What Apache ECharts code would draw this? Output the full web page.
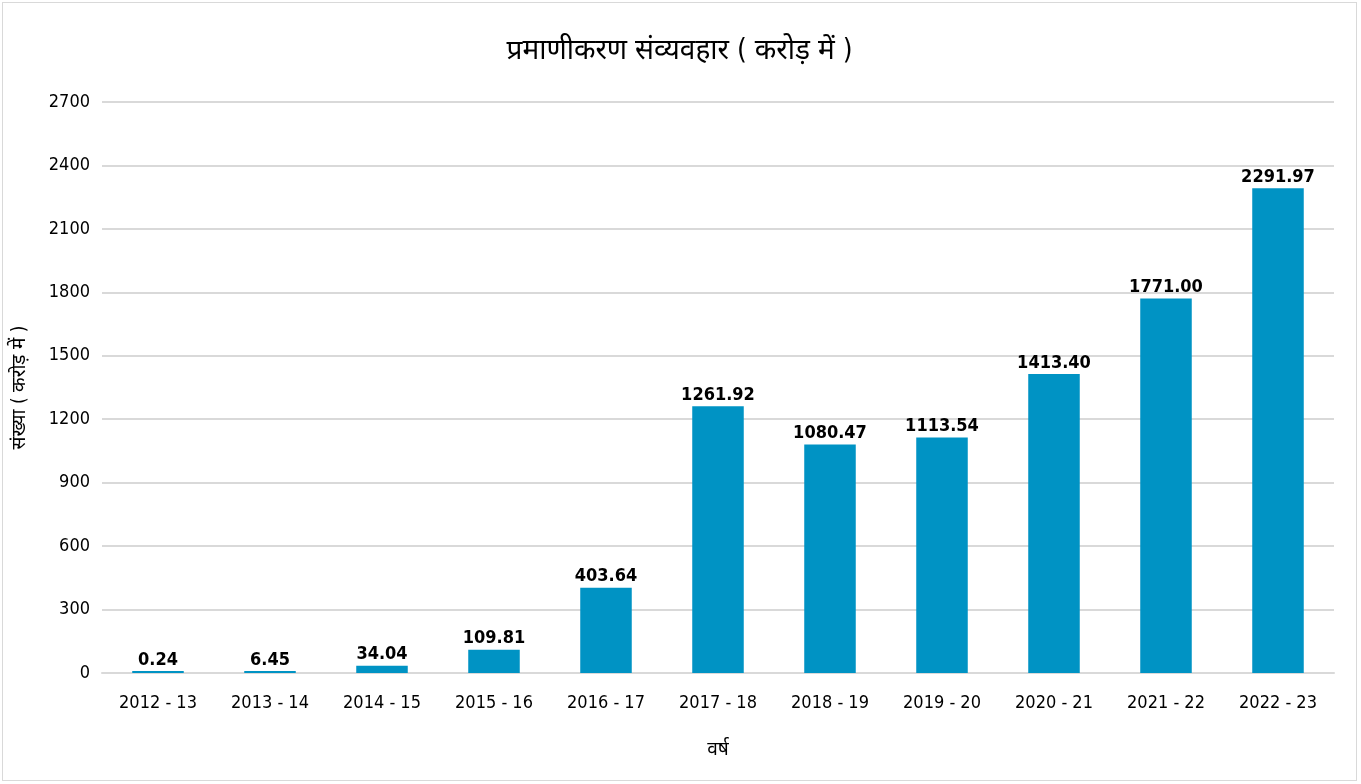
<!DOCTYPE html>
<html>
<head>
<meta charset="utf-8">
<script src="https://cdn.jsdelivr.net/npm/echarts@6/dist/echarts.min.js"></script>
<style>
  html, body { margin: 0; padding: 0; background: #fff; }
  #chart { position: absolute; left: 2px; top: 2px; width: 1355px; height: 779px; border: 1px solid #d9d9d9; box-sizing: border-box; }
</style>
</head>
<body>
<div id="chart"></div>
<script>
// Authentication transactions per financial year (in crore)
const years = ['2012 - 13', '2013 - 14', '2014 - 15', '2015 - 16', '2016 - 17', '2017 - 18',
               '2018 - 19', '2019 - 20', '2020 - 21', '2021 - 22', '2022 - 23'];
const transactions = [0.24, 6.45, 34.04, 109.81, 403.64, 1261.92, 1080.47, 1113.54, 1413.40, 1771.00, 2291.97];
const titleText = 'प्रमाणीकरण संव्यवहार ( करोड़ में )';
const xName = 'वर्ष';
const yName = 'संख्या ( करोड़ में )';

const FONT = '"Liberation Sans Narrow", "DejaVu Sans Condensed", "Noto Sans", sans-serif';
const chart = echarts.init(document.getElementById('chart'));
chart.setOption({
  animation: false,
  title: {
    text: titleText, left: 'center', top: 30,
    textStyle: { fontFamily: FONT, fontSize: 28, fontWeight: 'normal', color: '#000' }
  },
  grid: { left: 98, right: 22, top: 99, bottom: 107 },
  xAxis: {
    type: 'category', data: years,
    name: xName, nameLocation: 'middle', nameGap: 68,
    nameTextStyle: { fontFamily: FONT, fontSize: 19, color: '#000' },
    axisLine: { lineStyle: { color: '#d9d9d9', width: 2 } },
    axisTick: { show: false },
    axisLabel: { fontFamily: FONT, fontSize: 18, color: '#000', margin: 21 }
  },
  yAxis: {
    type: 'value', min: 0, max: 2700, interval: 300,
    name: yName, nameLocation: 'middle', nameGap: 72, nameRotate: 90,
    nameTextStyle: { fontFamily: FONT, fontSize: 19, color: '#000' },
    axisLine: { show: false }, axisTick: { show: false },
    axisLabel: { fontFamily: FONT, fontSize: 18, color: '#000', margin: 12, formatter: v => String(v) },
    splitLine: { lineStyle: { color: '#d9d9d9', width: 2 } }
  },
  series: [{
    type: 'bar', data: transactions, barWidth: '46%', barMinHeight: 2,
    itemStyle: { color: '#0093c4' },
    label: {
      show: true, position: 'top', distance: 2,
      formatter: p => p.value.toFixed(2),
      fontFamily: FONT, fontSize: 18, fontWeight: 'bold', color: '#000'
    }
  }]
});
</script>
</body>
</html>
